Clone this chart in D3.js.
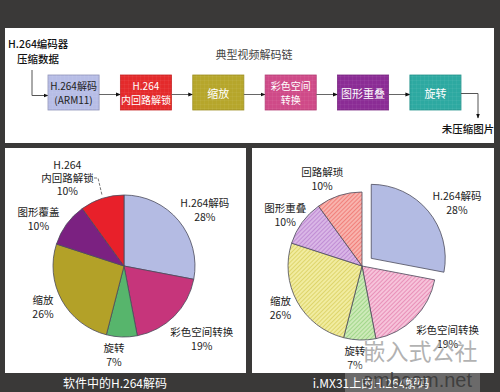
<!DOCTYPE html>
<html><head><meta charset="utf-8">
<script src="https://cdn.jsdelivr.net/npm/d3@7"></script>
<style>
html,body{margin:0;padding:0;background:#3a3938;}
svg{display:block;font-family:"Noto Sans CJK SC","Noto Sans",sans-serif;}
</style></head>
<body>
<script>
// ---- data ----
const chainTitle = "典型视频解码链";
const chainInput = ["H.264编码器", "压缩数据"];
const chainOutput = "未压缩图片";
const chainSteps = ["H.264解码|(ARM11)", "H.264|内回路解锁", "缩放", "彩色空间|转换", "图形重叠", "旋转"];
const chainColors = ["#b7bde6", "#e42a2b", "#b6a62b", "#cf4a88", "#8b2c95", "#2da9a1"];

const swLabels = ["H.264解码", "彩色空间转换", "旋转", "缩放", "图形覆盖", "H.264|内回路解锁"];
const swValues = [28, 19, 7, 26, 10, 10];
const swColors = ["#b4bbe3", "#c6357b", "#57b56c", "#b3a128", "#7b2181", "#e8202a"];
const swTitle = "软件中的H.264解码";

const mxLabels = ["H.264解码", "彩色空间转换", "旋转", "缩放", "图形重叠", "回路解琐"];
const mxValues = [28, 19, 7, 26, 10, 10];
const mxBase = ["#b3bbe3", "#f6c3da", "#cdeab8", "#f1eca0", "#d9b6e6", "#f8b3ad"];
const mxLine = ["#b3bbe3", "#e27aa9", "#8fcf78", "#d7cc55", "#b57ccc", "#ee6a66"];
const mxTitle = "i.MX31上的H.264解码";

// ---- layout ----
const W = 500, H = 392;
const svg = d3.select("body").append("svg").attr("width", W).attr("height", H);
const defs = svg.append("defs");

svg.append("rect").attr("width", W).attr("height", H).attr("fill", "#3a3938");
svg.append("rect").attr("x", 5).attr("y", 28).attr("width", 489).attr("height", 115).attr("fill", "#fff");
svg.append("rect").attr("x", 5).attr("y", 148).attr("width", 241).attr("height", 225).attr("fill", "#fff");
svg.append("rect").attr("x", 252).attr("y", 148).attr("width", 242).attr("height", 225).attr("fill", "#fff");

defs.append("marker").attr("id", "arr").attr("viewBox", "0 0 10 10").attr("refX", 9).attr("refY", 5)
  .attr("markerWidth", 5).attr("markerHeight", 5).attr("orient", "auto")
  .append("path").attr("d", "M0,1 L10,5 L0,9 Z").attr("fill", "#111");

const gp = defs.append("pattern").attr("id", "grid").attr("width", 4).attr("height", 4).attr("patternUnits", "userSpaceOnUse");
gp.append("path").attr("d", "M4,0 L0,0 0,4").attr("fill", "none").attr("stroke", "#fff").attr("stroke-opacity", 0.15).attr("stroke-width", 0.6);

// ---- top chain ----
const chainG = svg.append("g");
const xb = d3.scaleBand().domain(chainSteps).range([48, 461]).paddingInner(0.294).paddingOuter(0);
const boxY = 75, boxH = 35, midY = boxY + boxH / 2 + 2;

chainG.append("text").attr("x", 254).attr("y", 54).attr("text-anchor", "middle").attr("dominant-baseline", "central")
  .attr("font-size", 11).attr("fill", "#444").text(chainTitle);

chainInput.forEach((t, i) => {
  chainG.append("text").attr("x", i === 0 ? 8 : 17).attr("y", 43 + i * 15).attr("dominant-baseline", "central")
    .attr("font-size", 10.5).attr("font-weight", 500).attr("fill", "#111").text(t);
});
chainG.append("path").attr("d", `M32,70 L32,${midY+1} L${xb(chainSteps[0])},${midY+1}`).attr("fill", "none")
  .attr("stroke", "#555").attr("stroke-width", 1).attr("marker-end", "url(#arr)");

chainSteps.forEach((s, i) => {
  const x = xb(s), w = xb.bandwidth();
  chainG.append("rect").attr("x", x).attr("y", boxY).attr("width", w).attr("height", boxH)
    .attr("fill", chainColors[i]).attr("stroke", i === 0 ? "#8f93b8" : d3.color(chainColors[i]).darker(0.4)).attr("stroke-width", 0.8);
  chainG.append("rect").attr("x", x).attr("y", boxY).attr("width", w).attr("height", boxH).attr("fill", "url(#grid)");
  const lines = s.split("|");
  lines.forEach((t, j) => {
    chainG.append("text").attr("x", x + w / 2).attr("y", boxY + boxH / 2 + (j - (lines.length - 1) / 2) * 14.5)
      .attr("text-anchor", "middle").attr("dominant-baseline", "central")
      .attr("font-size", lines.length > 1 ? 10 : 11).attr("fill", i === 0 ? "#222" : "#fff").text(t);
  });
  if (i < chainSteps.length - 1) {
    chainG.append("line").attr("x1", x + w).attr("x2", xb(chainSteps[i + 1])).attr("y1", midY).attr("y2", midY)
      .attr("stroke", "#666").attr("stroke-width", 1).attr("marker-end", "url(#arr)");
  }
});
const lastX = xb(chainSteps[5]) + xb.bandwidth();
chainG.append("path").attr("d", `M${lastX},${midY-1} L478,${midY-1} L478,118`).attr("fill", "none")
  .attr("stroke", "#555").attr("stroke-width", 1).attr("marker-end", "url(#arr)");
chainG.append("text").attr("x", 468).attr("y", 128).attr("text-anchor", "middle").attr("dominant-baseline", "central")
  .attr("font-size", 10.5).attr("font-weight", 500).attr("fill", "#111").text(chainOutput);

// ---- hatch patterns ----
mxBase.forEach((c, i) => {
  const p = defs.append("pattern").attr("id", "h" + i).attr("width", 3).attr("height", 3)
    .attr("patternUnits", "userSpaceOnUse").attr("patternTransform", "rotate(45)");
  p.append("rect").attr("width", 3).attr("height", 3).attr("fill", c);
  p.append("line").attr("x1", 0).attr("y1", 0).attr("x2", 0).attr("y2", 3).attr("stroke", mxLine[i]).attr("stroke-width", 1.4);
});

// ---- pies ----
const pie = d3.pie().sort(null).value(d => d);

function drawPie(cfg) {
  const g = svg.append("g").attr("transform", `translate(${cfg.cx},${cfg.cy})`);
  const arc = d3.arc().innerRadius(0).outerRadius(cfg.r);
  const arcs = pie(cfg.values);
  arcs.forEach((a, i) => {
    const mid = (a.startAngle + a.endAngle) / 2;
    const off = (cfg.explode && cfg.explode[i]) || 0;
    g.append("path").attr("d", arc(a))
      .attr("transform", `translate(${Math.sin(mid) * off},${-Math.cos(mid) * off})`)
      .attr("fill", cfg.fill(i)).attr("stroke", "#4a4a5a").attr("stroke-width", 0.8);
  });
  arcs.forEach((a, i) => {
    const mid = (a.startAngle + a.endAngle) / 2;
    const lr = cfg.r * 1.35;
    const x = Math.sin(mid) * lr + cfg.nudge[i][0];
    const y = -Math.cos(mid) * lr + cfg.nudge[i][1];
    const lines = cfg.labels[i].split("|").concat([cfg.values[i] + "%"]);
    const lh = lines.length > 2 ? 13 : 14;
    lines.forEach((t, j) => {
      g.append("text").attr("x", x).attr("y", y + (j - (lines.length - 1) / 2) * lh)
        .attr("text-anchor", "middle").attr("dominant-baseline", "central")
        .attr("font-size", 10.5).attr("fill", "#222").text(t);
    });
  });
  svg.append("text").attr("x", cfg.titleX).attr("y", 382).attr("text-anchor", "middle").attr("dominant-baseline", "central")
    .attr("font-size", 12).attr("fill", "#fff").text(cfg.title);
  return g;
}

const g1 = drawPie({
  cx: 124, cy: 266, r: 71, values: swValues, labels: swLabels, fill: i => swColors[i],
  nudge: [[7, 5], [10, 5], [-7, -7], [3, -6], [-8, 9], [-27, 3]], title: swTitle, titleX: 115
});
g1.append("path").attr("d", "M-30,-88 L-26,-88 L-22,-71").attr("fill", "none").attr("stroke", "#555")
  .attr("stroke-width", 0.8).attr("stroke-dasharray", "3,1.5");

drawPie({
  cx: 362, cy: 266, r: 74, values: mxValues, labels: mxLabels,
  fill: i => i === 0 ? mxBase[0] : "url(#h" + i + ")",
  explode: [12, 0, 0, 0, 0, 0],
  nudge: [[18, 0], [15, 0], [-4, -8], [6, -7], [4, 7], [-9, 7]], title: mxTitle, titleX: 371
});

// ---- watermark (part of the reference image) ----
svg.append("rect").attr("x", 345).attr("y", 365).attr("width", 135).attr("height", 27).attr("fill", "#fff").attr("fill-opacity", 0.25);
svg.append("text").attr("x", 420).attr("y", 350).attr("text-anchor", "middle").attr("dominant-baseline", "central")
  .attr("font-size", 23).attr("fill", "#999").attr("fill-opacity", 0.75).text("嵌入式公社");
svg.append("text").attr("x", 417).attr("y", 380).attr("text-anchor", "middle").attr("dominant-baseline", "central")
  .attr("font-size", 20).attr("fill", "#333").attr("fill-opacity", 0.8).attr("font-family", "Liberation Sans, Arial, sans-serif").text("embcom.net");
</script>
</body></html>
